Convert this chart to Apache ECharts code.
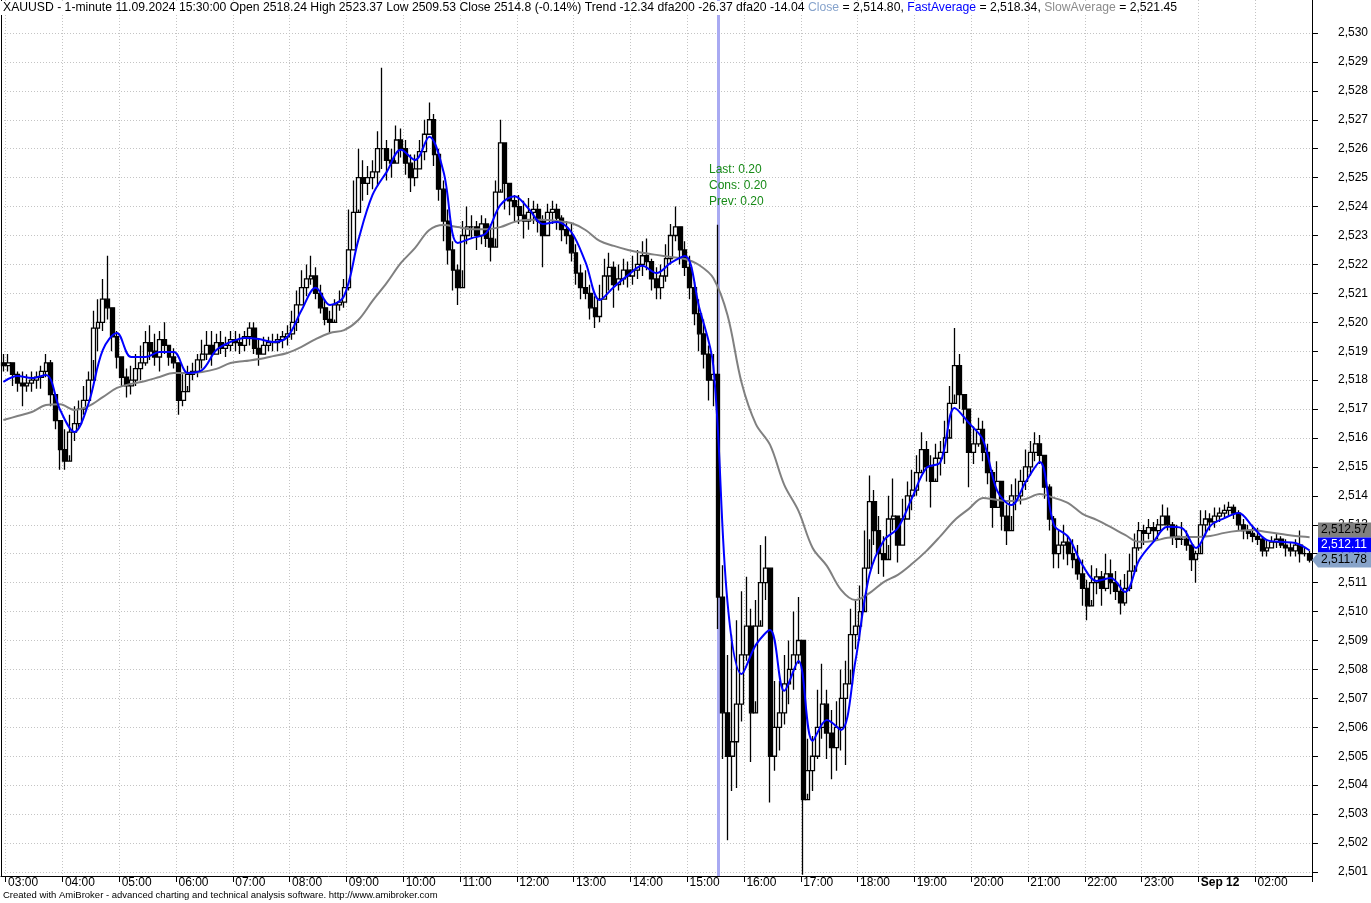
<!DOCTYPE html>
<html><head><meta charset="utf-8">
<script src="https://cdn.jsdelivr.net/npm/echarts@6/dist/echarts.min.js"></script>
<style>html,body{margin:0;padding:0;background:#fff}#c{width:1371px;height:903px}</style>
</head><body><div id="c"></div>
<script>
// ---- time axis: 5-minute slots, market break 00:00-01:00 ----
const sessions = [['02:55', '23:55'], ['01:00', '02:55']];
const dayBreakLabel = 'Sep 12';
const selectedSlot = 151; // 15:30 bar

// ---- price data (5-minute slots) ----
const firstOpen = 2518.6;
const highs = [2518.9,
2518.9,2518.6,2518.3,2518.3,2518.2,2518.3,2518.3,2518.5,2518.9,2518.7,2517.5,2516.5,
2516.3,2516.8,2517.1,2517.3,2517.8,2518.3,2520.4,2520.8,2521.5,2522.3,2520.4,2519.7,
2518.7,2518.4,2518.5,2518.9,2519.2,2519.7,2519.9,2519.6,2519.7,2520.0,2519.2,2519.1,
2518.3,2518.2,2518.5,2518.6,2518.9,2519.4,2519.7,2519.7,2519.6,2519.7,2519.5,2519.7,
2519.7,2519.6,2519.7,2520.0,2520.0,2519.4,2519.5,2519.5,2519.6,2519.6,2519.7,2519.9,
2520.4,2521.1,2521.8,2522.0,2522.3,2521.9,2521.3,2520.8,2520.4,2520.8,2521.1,2521.5,
2523.9,2524.9,2526.0,2525.6,2525.4,2525.6,2526.6,2528.8,2526.3,2526.0,2526.8,2526.7,
2526.3,2525.8,2525.8,2526.3,2527.0,2527.6,2527.2,2526.0,2524.9,2523.9,2522.8,2522.0,
2523.5,2524.0,2523.7,2523.5,2523.7,2523.6,2523.4,2524.9,2527.0,2526.0,2524.6,2524.4,
2524.4,2524.2,2524.3,2524.2,2524.1,2523.7,2524.1,2524.2,2524.1,2523.7,2523.5,2523.4,
2522.7,2522.0,2521.8,2521.3,2520.9,2521.3,2522.2,2522.4,2522.1,2522.0,2522.2,2522.1,
2522.3,2522.5,2522.8,2522.9,2522.2,2521.9,2522.0,2522.7,2523.4,2524.0,2523.3,2522.8,
2522.3,2521.4,2520.8,2520.1,2519.2,2518.9,2523.37,2511.6,2508.5,2509.2,2509.7,2510.7,
2511.2,2510.1,2510.4,2512.3,2512.6,2510.7,2507.6,2507.6,2508.5,2509.0,2510.0,2510.5,
2508.7,2505.6,2505.7,2507.3,2508.2,2507.3,2506.6,2506.9,2508.0,2508.3,2510.1,2510.4,
2510.9,2512.8,2514.7,2514.2,2513.3,2512.6,2514.0,2514.6,2513.3,2513.9,2514.5,2514.9,
2515.4,2516.2,2515.9,2515.4,2515.8,2515.9,2516.6,2517.8,2519.8,2518.9,2517.5,2517.0,
2516.4,2516.7,2516.6,2515.8,2514.9,2515.2,2514.5,2513.7,2514.4,2514.6,2514.9,2515.6,
2515.9,2516.2,2516.1,2515.4,2514.4,2513.3,2512.8,2513.0,2512.6,2512.5,2512.3,2511.8,
2511.1,2511.6,2511.5,2511.4,2512.0,2511.8,2511.4,2511.1,2511.3,2512.0,2512.7,2513.1,
2513.0,2513.2,2513.1,2513.2,2513.7,2513.6,2513.1,2513.0,2513.1,2512.8,2512.3,2512.1,
2513.5,2513.5,2513.4,2513.6,2513.6,2513.7,2513.8,2513.7,2513.5,2513.2,2513.0,2513.0,
2512.9,2512.6,2512.5,2512.6,2512.7,2512.6,2512.5,2512.4,2512.5,2512.8,2512.2,2512.1];
const lows = [2518.3,
2518.3,2517.8,2517.6,2517.1,2517.6,2517.6,2517.7,2517.7,2518.1,2517.1,2516.3,2514.9,
2514.9,2515.4,2515.9,2516.3,2516.8,2517.3,2518.7,2519.0,2519.7,2520.1,2519.0,2518.4,
2517.8,2517.4,2517.5,2517.8,2518.0,2518.5,2518.7,2518.5,2518.3,2518.9,2518.5,2518.4,
2516.8,2517.1,2517.8,2518.0,2518.1,2518.4,2518.7,2518.5,2518.9,2518.9,2518.8,2519.0,
2519.0,2518.9,2519.0,2519.2,2518.9,2518.5,2518.9,2519.0,2519.0,2519.0,2519.1,2519.2,
2519.4,2519.7,2520.6,2520.9,2521.3,2520.8,2520.3,2519.9,2519.6,2520.1,2520.4,2520.5,
2521.1,2522.5,2523.9,2524.2,2524.4,2524.6,2524.7,2525.3,2524.9,2525.0,2525.6,2525.7,
2525.1,2524.5,2524.7,2525.3,2525.6,2526.5,2525.4,2524.2,2522.8,2522.0,2521.1,2520.6,
2521.8,2522.7,2522.9,2522.5,2522.7,2522.6,2522.1,2522.9,2524.6,2523.9,2523.7,2523.5,
2523.4,2522.9,2523.2,2523.4,2523.1,2521.9,2523.0,2523.4,2523.2,2522.8,2522.7,2522.1,
2521.3,2520.8,2520.8,2520.1,2519.8,2520.0,2520.8,2521.1,2520.5,2521.1,2521.3,2521.2,
2521.3,2521.5,2521.6,2521.8,2521.1,2520.8,2520.8,2521.4,2522.0,2522.8,2522.0,2521.6,
2520.8,2519.9,2519.0,2518.4,2517.3,2517.1,2509.4,2504.9,2502.1,2503.8,2503.9,2506.2,
2508.3,2504.8,2506.9,2509.7,2510.4,2503.4,2504.5,2505.2,2506.1,2506.8,2507.3,2508.2,
2500.9,2503.7,2503.8,2504.9,2505.6,2504.9,2504.2,2504.5,2505.2,2504.7,2508.0,2508.7,
2509.0,2510.4,2512.5,2512.3,2511.3,2511.2,2512.3,2512.8,2511.7,2512.3,2513.2,2513.5,
2514.0,2514.9,2514.5,2513.6,2514.6,2514.7,2515.1,2516.3,2517.5,2517.0,2516.5,2514.3,
2515.1,2515.7,2515.2,2514.4,2512.9,2513.9,2512.8,2512.3,2513.3,2513.5,2513.7,2514.2,
2514.7,2515.2,2515.1,2513.9,2512.8,2511.5,2511.5,2511.8,2511.6,2511.5,2511.1,2510.2,
2509.7,2510.4,2510.6,2510.2,2510.7,2510.6,2510.4,2509.9,2510.2,2510.7,2511.6,2512.1,
2512.3,2512.5,2512.4,2512.5,2513.0,2512.8,2512.3,2512.2,2512.3,2512.1,2511.4,2511.0,
2512.3,2512.6,2512.8,2512.9,2513.1,2513.2,2513.3,2513.2,2512.8,2512.5,2512.5,2512.4,
2512.3,2511.9,2511.9,2512.2,2512.2,2512.2,2511.9,2511.9,2511.9,2511.7,2511.9,2511.7];
const closes = [2518.5,
2518.6,2518.2,2517.9,2517.8,2517.9,2518.0,2518.1,2518.3,2518.6,2517.5,2516.6,2515.6,
2515.2,2516.2,2516.5,2517.0,2517.3,2518.0,2519.8,2520.0,2520.8,2520.5,2519.5,2518.8,
2518.1,2517.8,2518.0,2518.4,2518.6,2519.3,2519.0,2518.8,2519.4,2519.2,2518.8,2518.6,
2517.3,2517.6,2518.2,2518.3,2518.7,2518.9,2519.2,2518.9,2519.3,2519.1,2519.2,2519.4,
2519.3,2519.2,2519.5,2519.8,2519.1,2518.9,2519.2,2519.3,2519.3,2519.4,2519.5,2519.6,
2520.0,2520.6,2521.2,2521.5,2521.6,2521.0,2520.5,2520.1,2520.0,2520.6,2520.7,2521.2,
2522.5,2523.8,2525.0,2524.8,2525.0,2525.2,2526.0,2526.0,2525.6,2525.5,2526.3,2526.0,
2525.5,2525.0,2525.3,2525.9,2526.5,2527.0,2525.8,2524.6,2523.5,2522.5,2521.8,2521.2,
2523.0,2523.3,2523.3,2523.0,2523.4,2522.9,2522.6,2524.5,2526.2,2524.8,2524.2,2524.0,
2523.7,2523.5,2523.8,2523.9,2523.5,2523.0,2523.8,2523.9,2523.6,2523.2,2523.0,2522.4,
2521.7,2521.2,2521.0,2520.5,2520.2,2520.8,2521.6,2521.9,2521.3,2521.5,2521.8,2521.6,
2521.8,2522.0,2522.3,2522.1,2521.5,2521.2,2521.6,2522.2,2523.0,2523.3,2522.5,2521.9,
2521.2,2520.3,2519.6,2518.9,2518.0,2518.2,2510.5,2506.5,2505.0,2505.5,2506.8,2508.5,
2509.5,2506.5,2509.5,2511.0,2511.5,2505.0,2506.0,2506.5,2507.5,2508.0,2508.5,2509.0,
2503.5,2504.5,2505.0,2506.0,2506.8,2505.8,2505.3,2506.0,2507.0,2507.5,2509.2,2509.5,
2510.0,2511.5,2513.8,2512.8,2512.0,2511.8,2513.2,2513.3,2512.3,2513.2,2514.0,2514.2,
2514.8,2515.6,2515.0,2514.5,2515.3,2515.5,2516.0,2517.2,2518.5,2517.5,2517.0,2515.5,
2515.8,2516.3,2515.5,2514.8,2513.6,2514.5,2513.3,2512.8,2514.0,2514.0,2514.5,2515.0,
2515.5,2515.8,2515.4,2514.3,2513.2,2512.0,2512.3,2512.4,2512.0,2511.8,2511.3,2510.8,
2510.2,2511.0,2511.2,2510.8,2511.3,2511.0,2510.7,2510.3,2510.8,2511.4,2512.2,2512.8,
2512.7,2512.9,2512.8,2513.0,2513.3,2513.0,2512.6,2512.5,2512.5,2512.3,2511.8,2512.0,
2513.0,2513.2,2513.1,2513.3,2513.4,2513.5,2513.6,2513.4,2513.0,2512.8,2512.7,2512.6,
2512.5,2512.1,2512.2,2512.4,2512.5,2512.3,2512.2,2512.1,2512.3,2512.0,2512.0,2511.78];

// ---- moving averages, read every 3rd slot (15 minutes) ----
const avgStep = 3;
const fastAvg = [2517.94,2518.14,2518.07,2518.18,2516.97,2516.21,2517.2,2519.04,2519.63,2518.8,
2518.8,2518.97,2518.97,2518.25,2518.35,2519.04,2519.32,2519.46,2519.42,2519.32,
2519.49,2520.42,2521.19,2520.6,2520.91,2522.84,2524.4,2525.2,2525.96,2525.61,
2526.41,2525.2,2522.74,2522.91,2523.08,2524.05,2524.36,2523.92,2523.4,2523.47,
2523.12,2522.08,2520.77,2521.22,2521.63,2521.95,2521.7,2522.05,2522.29,2520.53,
2518.5,2510.33,2507.84,2508.85,2509.36,2507.26,2508.29,2505.53,2506.25,2505.91,
2508.26,2511.27,2512.45,2512.89,2513.93,2514.96,2515.17,2517.04,2516.52,2515.93,
2514.17,2513.68,2514.48,2515.17,2512.99,2512.58,2511.61,2511.06,2511.16,2510.68,
2511.78,2512.41,2512.93,2512.89,2512.2,2512.96,2513.23,2513.41,2512.93,2512.47,
2512.41,2512.37,2512.11];
const slowAvg = [2516.62,2516.76,2516.9,2517.14,2517.17,2516.97,2517.1,2517.41,2517.73,2517.87,
2517.97,2518.11,2518.25,2518.25,2518.28,2518.39,2518.59,2518.66,2518.73,2518.83,
2518.94,2519.15,2519.42,2519.63,2519.73,2520.08,2520.74,2521.36,2522.05,2522.57,
2523.19,2523.36,2523.29,2523.22,2523.22,2523.29,2523.47,2523.54,2523.54,2523.5,
2523.43,2523.19,2522.81,2522.64,2522.5,2522.4,2522.33,2522.26,2522.19,2521.98,
2521.53,2520.25,2517.9,2516.48,2515.76,2514.38,2513.48,2512.2,2511.58,2510.75,
2510.4,2510.64,2511.02,2511.27,2511.65,2512.09,2512.61,2513.16,2513.55,2513.93,
2513.86,2513.82,2513.89,2514.06,2513.93,2513.75,2513.38,2513.17,2512.92,2512.65,
2512.41,2512.44,2512.55,2512.58,2512.58,2512.61,2512.72,2512.79,2512.82,2512.75,
2512.68,2512.61,2512.57];

const yTicks = [2501,2502,2503,2504,2505,2506,2507,2508,2509,2510,2511,2512,2513,2514,2515,
2516,2517,2518,2519,2520,2521,2522,2523,2524,2525,2526,2527,2528,2529,2530];
const yMin = 2500.86, yMax = 2531.14;

const titleMain = 'XAUUSD - 1-minute 11.09.2024 15:30:00 Open 2518.24 High 2523.37 Low 2509.53 Close 2514.8 (-0.14%) Trend -12.34 dfa200 -26.37 dfa20 -14.04 ';
const titleVals = {close: '2,514.80', fast: '2,518.34', slow: '2,521.45'};
const noteText = 'Last: 0.20\nCons: 0.20\nPrev: 0.20';
const footerText = 'Created with AmiBroker - advanced charting and technical analysis software. http://www.amibroker.com';

// ---- build ----
const categories = [];
sessions.forEach(([a, b]) => {
  let [h, m] = a.split(':').map(Number);
  const [eh, em] = b.split(':').map(Number);
  while (h * 60 + m <= eh * 60 + em) {
    categories.push(String(h).padStart(2, '0') + ':' + String(m).padStart(2, '0'));
    m += 5; if (m >= 60) { m -= 60; h++; }
  }
});
const dayBreakIndex = categories.indexOf(sessions[1][0]);
const isHour = (i, v) => String(categories[i]).endsWith(':00');
const candleData = closes.map((c, i) => [i === 0 ? firstOpen : closes[i - 1], c, lows[i], highs[i]]);
const fastData = fastAvg.map((v, j) => [j * avgStep, v]);
const slowData = slowAvg.map((v, j) => [j * avgStep, v]);
const fmt = v => String(v).replace(/^(\d)(\d{3})/, '$1,$2');
const FONT = 'Liberation Sans, Arial, sans-serif';
const TF = 12.2;
const dotted = {color: '#c4c4c4', type: [1, 2], width: 1};
const gridRight = 59, gridBottom = 27;

const chart = echarts.init(document.getElementById('c'), null, {renderer: 'canvas'});
chart.setOption({
  animation: false,
  backgroundColor: '#fff',
  title: {
    text: titleMain + '{c|Close} = ' + titleVals.close + ', {f|FastAverage} = ' + titleVals.fast + ', {s|SlowAverage} = ' + titleVals.slow,
    left: 1, top: 1, padding: [1, 2], backgroundColor: '#fff',
    textStyle: {fontSize: TF, fontWeight: 'normal', color: '#000', fontFamily: FONT,
      rich: {c: {color: '#86a3cc', fontSize: TF, fontFamily: FONT},
             f: {color: '#0000ff', fontSize: TF, fontFamily: FONT},
             s: {color: '#8c8c8c', fontSize: TF, fontFamily: FONT}}}
  },
  grid: {left: 1, right: gridRight, top: 0, bottom: gridBottom, containLabel: false},
  xAxis: [{
    type: 'category', data: categories, boundaryGap: true,
    axisLine: {show: true, lineStyle: {color: '#000', width: 1}},
    axisTick: {show: true, interval: isHour, length: 6, lineStyle: {color: '#000'}},
    axisLabel: {interval: isHour, align: 'left', margin: 1, fontSize: 12, color: '#000', fontFamily: FONT,
      formatter: (v, i) => i === dayBreakIndex ? '{b|' + dayBreakLabel + '}' : v,
      rich: {b: {fontWeight: 'bold', fontSize: 12, fontFamily: FONT, color: '#000'}}},
    splitLine: {show: true, interval: isHour, lineStyle: dotted}
  }, {
    type: 'category', data: categories, boundaryGap: true, position: 'top',
    axisLine: {show: false}, axisTick: {show: false}, axisLabel: {show: false},
    splitLine: {show: true, interval: (i) => i === dayBreakIndex, lineStyle: {color: '#a6a6a6', width: 1, type: 'solid'}}
  }],
  yAxis: [{
    type: 'value', position: 'right', min: yMin, max: yMax,
    axisLine: {show: true, lineStyle: {color: '#000'}},
    axisTick: {show: true, customValues: yTicks, length: 6, lineStyle: {color: '#000'}},
    axisLabel: {customValues: yTicks, formatter: fmt, align: 'left', margin: 26, fontSize: 12, color: '#000', fontFamily: FONT},
    splitLine: {show: true, lineStyle: dotted}
  }, {
    type: 'value', position: 'left', min: yMin, max: yMax,
    axisLine: {show: true, lineStyle: {color: '#000'}},
    axisTick: {show: false}, axisLabel: {show: false}, splitLine: {show: false}
  }],
  series: [{
    name: 'Close', type: 'candlestick', data: candleData, barWidth: 4.4, z: 2,
    itemStyle: {color: '#fff', color0: '#000', borderColor: '#000', borderColor0: '#000', borderWidth: 1.3},
    markLine: {silent: true, z: 1, symbol: ['none', 'none'], label: {show: false},
      lineStyle: {color: '#a9aaf2', width: 3, type: 'solid'}, data: [{xAxis: selectedSlot}]}
  }, {
    name: 'SlowAverage', type: 'line', data: slowData, showSymbol: false, z: 3, smooth: 0.35,
    lineStyle: {color: '#808080', width: 2}, itemStyle: {color: '#808080'}
  }, {
    name: 'FastAverage', type: 'line', data: fastData, showSymbol: false, z: 4, smooth: 0.35,
    lineStyle: {color: '#0000ff', width: 2}, itemStyle: {color: '#0000ff'}
  }]
});

// price tags on the right axis, placed through the value scale
const W = chart.getWidth();
const plotRight = W - gridRight;
const h = 15;
const yC = chart.convertToPixel({yAxisIndex: 0}, closes[closes.length - 1]);
const yF = Math.min(chart.convertToPixel({yAxisIndex: 0}, fastAvg[fastAvg.length - 1]), yC - h);
const yS = Math.min(chart.convertToPixel({yAxisIndex: 0}, slowAvg[slowAvg.length - 1]), yF - h);
const bx = plotRight + 6;
const tag = (cy, fill, txtColor, label, arrow) => [
  arrow ? {type: 'polygon', z: 100, shape: {points: [[plotRight, cy], [bx, cy - h / 2], [W, cy - h / 2], [W, cy + h / 2], [bx, cy + h / 2]]}, style: {fill: fill}}
        : {type: 'rect', z: 100, shape: {x: bx, y: cy - h / 2, width: W - bx, height: h}, style: {fill: fill}},
  {type: 'text', z: 101, x: bx + 3, y: cy, style: {text: label, fill: txtColor, font: '12px ' + FONT, textVerticalAlign: 'middle'}}
];
chart.setOption({
  graphic: [
    {type: 'text', left: 709, top: 162, z: 50, style: {text: noteText, fill: '#178a17', font: '12px ' + FONT, lineHeight: 16}},
    {type: 'text', left: 3, top: 890, z: 50, style: {text: footerText, fill: '#000', font: '9.5px ' + FONT}},
    ...tag(yS, '#808080', '#000', fmt(slowAvg[slowAvg.length - 1].toFixed(2)), false),
    ...tag(yF, '#0000ff', '#fff', fmt(fastAvg[fastAvg.length - 1].toFixed(2)), false),
    ...tag(yC, '#87a3c9', '#000', fmt(closes[closes.length - 1].toFixed(2)), true)
  ]
});
</script></body></html>
